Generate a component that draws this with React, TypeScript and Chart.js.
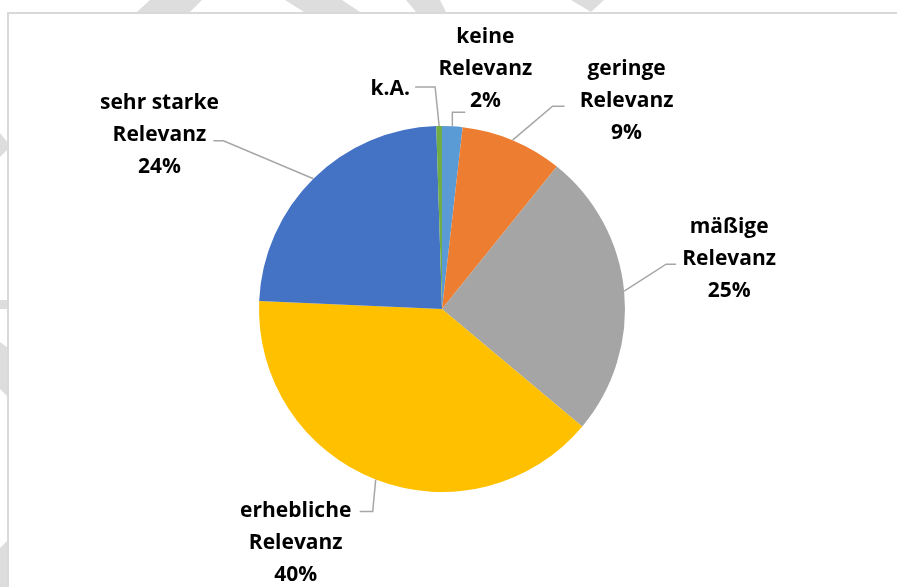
import React, { useEffect, useRef } from "react";
import { Chart, registerables } from "chart.js";

Chart.register(...registerables);

// ---- data ----
const categories = [
  "keine Relevanz",
  "geringe Relevanz",
  "mäßige Relevanz",
  "erhebliche Relevanz",
  "sehr starke Relevanz",
  "k.A.",
];
const shares = [1.8, 9.0, 25.3, 39.6, 23.8, 0.5];
const labelNames = [
  ["keine", "Relevanz"],
  ["geringe", "Relevanz"],
  ["mäßige", "Relevanz"],
  ["erhebliche", "Relevanz"],
  ["sehr starke", "Relevanz"],
  ["k.A."],
];
const showPercent = [true, true, true, true, true, false];

// ---- styles ----
const sliceColors = ["#5B9BD5", "#ED7D31", "#A5A5A5", "#FFC000", "#4472C4", "#70AD47"];
const FONT = "bold 21px 'Open Sans', 'Noto Sans', sans-serif";
const LINE_H = 32;
const TEXT_SHIFT_Y = 2;

// label placement relative to the slice anchor (outer edge at mid-angle)
const labelLayout = [
  { text: [33, -59], elbow: [0, -14], end: [13, -14] },
  { text: [114, -41], elbow: [40, -34], end: [52, -34] },
  { text: [105, -34], elbow: [42, -27], end: [52, -27] },
  { text: [-80, 61], elbow: [-3, 32], end: [-16, 32] },
  { text: [-154, -46], elbow: [-90, -38], end: [-100, -38] },
  { text: [-49, -39], elbow: [-4, -39], end: [-24, -39] },
];

const backgroundPlugin = {
  id: "bgFrame",
  beforeDraw(chart: any) {
    const ctx = chart.ctx as CanvasRenderingContext2D;
    const W = chart.width;
    const H = chart.height;
    ctx.save();
    ctx.fillStyle = "#ffffff";
    ctx.fillRect(0, 0, W, H);
    // faint watermark remnants outside the frame
    ctx.fillStyle = "#DDDDDD";
    const polys: number[][][] = [
      [[150, 0], [202, 0], [190, 12], [137, 12]],
      [[285, 0], [342, 0], [360, 12], [304, 12]],
      [[406, 0], [440, 0], [446, 12], [416, 12]],
      [[571, 0], [604, 0], [591, 12]],
      [[0, 133], [8, 143], [8, 149], [0, 157]],
      [[0, 300], [8, 300], [8, 309], [0, 309]],
      [[0, 342], [8, 348], [8, 397], [0, 389]],
      [[0, 548], [8, 540], [8, 587], [0, 587]],
    ];
    for (const p of polys) {
      ctx.beginPath();
      ctx.moveTo(p[0][0], p[0][1]);
      for (let i = 1; i < p.length; i++) ctx.lineTo(p[i][0], p[i][1]);
      ctx.closePath();
      ctx.fill();
    }
    // chart frame
    ctx.strokeStyle = "#D9D9D9";
    ctx.lineWidth = 2;
    ctx.beginPath();
    ctx.moveTo(8, H + 2);
    ctx.lineTo(8, 13);
    ctx.lineTo(W + 2, 13);
    ctx.stroke();
    ctx.restore();
  },
};

const labelPlugin = {
  id: "pieLabels",
  afterDatasetsDraw(chart: any) {
    const ctx = chart.ctx as CanvasRenderingContext2D;
    const meta = chart.getDatasetMeta(0);
    const total = shares.reduce((a, b) => a + b, 0);
    ctx.save();
    meta.data.forEach((arc: any, i: number) => {
      const { x, y, startAngle, endAngle, outerRadius } = arc.getProps(
        ["x", "y", "startAngle", "endAngle", "outerRadius"],
        true
      );
      const mid = (startAngle + endAngle) / 2;
      const ax = x + Math.cos(mid) * outerRadius;
      const ay = y + Math.sin(mid) * outerRadius;
      const lay = labelLayout[i];
      // leader line
      ctx.strokeStyle = "#A6A6A6";
      ctx.lineWidth = 1.5;
      ctx.beginPath();
      ctx.moveTo(ax, ay);
      ctx.lineTo(ax + lay.elbow[0], ay + lay.elbow[1]);
      ctx.lineTo(ax + lay.end[0], ay + lay.end[1]);
      ctx.stroke();
      // text
      const lines = [...labelNames[i]];
      if (showPercent[i]) lines.push(Math.round((shares[i] / total) * 100) + "%");
      ctx.fillStyle = "#000000";
      ctx.font = FONT;
      ctx.textAlign = "center";
      ctx.textBaseline = "middle";
      const cx = ax + lay.text[0];
      const cy = ay + lay.text[1] + TEXT_SHIFT_Y;
      const n = lines.length;
      lines.forEach((t, k) => {
        ctx.fillText(t, cx, cy + (k - (n - 1) / 2) * LINE_H);
      });
    });
    ctx.restore();
  },
};

export default function App() {
  const ref = useRef<HTMLCanvasElement | null>(null);
  useEffect(() => {
    if (!ref.current) return;
    const chart = new Chart(ref.current, {
      type: "pie",
      data: {
        labels: categories,
        datasets: [
          {
            data: shares,
            backgroundColor: sliceColors,
            borderWidth: 0,
            hoverOffset: 0,
            offset: 0,
          },
        ],
      },
      options: {
        responsive: false,
        animation: false,
        events: [],
        layout: { padding: { left: 200, right: 213, top: 126, bottom: 95 } },
        plugins: {
          legend: { display: false },
          tooltip: { enabled: false },
        },
      },
      plugins: [backgroundPlugin, labelPlugin],
    });
    return () => chart.destroy();
  }, []);
  return (
    <div style={{ position: "fixed", left: 0, top: 0, width: 897, height: 587, background: "#fff" }}>
      <canvas ref={ref} width={897} height={587} style={{ display: "block", width: 897, height: 587 }} />
    </div>
  );
}
